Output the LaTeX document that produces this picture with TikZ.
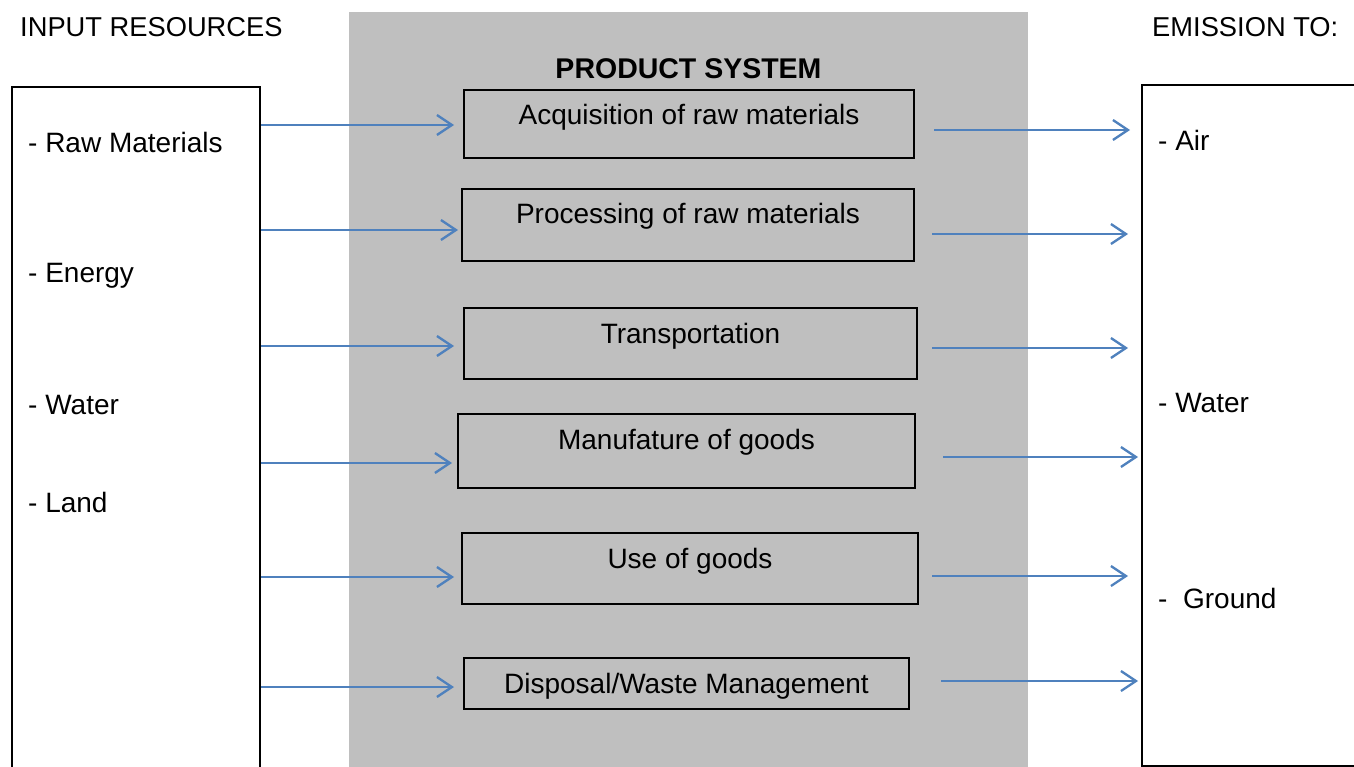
\documentclass[tikz,border=0pt]{standalone}
\usepackage{fontspec}
\setmainfont{Liberation Sans}
\usetikzlibrary{calc,arrows.meta}

\begin{document}
\begin{tikzpicture}[
            x=1pt,y=-1pt,
            font=\fontsize{28}{33}\selectfont,
            flow/.style={line width=2.3pt,flowblue,-{Straight Barb[length=15pt,width=20pt,line width=2.3pt]}},
            stepbox/.style={draw,line width=2pt,inner sep=0pt,text height=35pt,anchor=north},
            item/.style={anchor=base west,inner sep=0pt},
            headtext/.style={item,font=\fontsize{27.3}{32}\selectfont}
        ]
            \definecolor{flowblue}{RGB}{79,129,189}
            \definecolor{sysgray}{RGB}{191,191,191}

            \path[use as bounding box] (0,0) rectangle (1354,767);
            \clip (0,0) rectangle (1354,767);

            \node (sys) [fill=sysgray,inner sep=0pt,minimum width=679,minimum height=760,anchor=north west] at (349,12) {};
            \node (inbox)  [draw,line width=2.4pt,minimum width=248,minimum height=720,anchor=north west] at (11,86) {};
            \node (outbox) [draw,line width=2.4pt,minimum width=300,minimum height=681,anchor=north west] at (1141,84) {};

            \node (inhead)  [headtext] at (20,37)   {INPUT RESOURCES};
            \node (outhead) [headtext] at (1152,37) {EMISSION TO:};
            \node (systitle) [anchor=base,inner sep=0pt,font=\fontsize{28.5}{33}\selectfont\bfseries] at (688.5,79) {PRODUCT SYSTEM};

            \begin{scope}[every node/.style={stepbox}]
                \node (s1) [minimum width=450,text depth=33pt] at (689,89)    {Acquisition of raw materials};
                \node (s2) [minimum width=452,text depth=37pt] at (688,188)   {Processing of raw materials};
                \node (s3) [minimum width=453,text depth=36pt] at (690.5,307) {Transportation};
                \node (s4) [minimum width=457,text depth=39pt] at (686.5,413) {Manufature of goods};
                \node (s5) [minimum width=456,text depth=36pt] at (690,532)   {Use of goods};
                \node (s6) [minimum width=445,text depth=16pt] at (686.5,657) {Disposal/Waste Management};
            \end{scope}

            \node (raw)    [item] at (28,153) {- Raw Materials};
            \node (energy) [item] at (28,283) {- Energy};
            \node (wtrin)  [item] at (28,414) {- Water};
            \node (land)   [item] at (28,512) {- Land};

            \node (air)    [item] at (1158,151) {- Air};
            \node (wtrout) [item] at (1158,412) {- Water};
            \node (ground) [item] at (1158,608) {-\ \ Ground};

            \foreach \i/\yl/\gl/\yr/\sr/\er in {1/125/9/130/19/11,2/230/3/234/17/13,3/346/9/348/14/13,4/463/5/457/27/3,5/577/7/576/13/13,6/687/9/681/31/3}{
                \draw[flow] (inbox.east |- 0,\yl) -- ($(s\i.west |- 0,\yl)+(-\gl,0)$);
                \draw[flow] ($(s\i.east |- 0,\yr)+(\sr,0)$) -- ($(outbox.west |- 0,\yr)+(-\er,0)$);
            }
        \end{tikzpicture}
\end{document}
